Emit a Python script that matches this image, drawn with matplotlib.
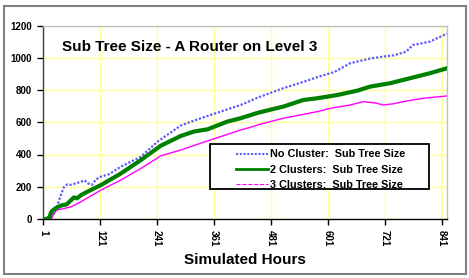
import matplotlib
matplotlib.use('Agg')
import matplotlib.pyplot as plt
from matplotlib.lines import Line2D
from matplotlib.patches import Rectangle

plt.rcParams['font.family'] = ['Liberation Sans', 'DejaVu Sans']

# Valeurs (heures simulees -> taille du sous-arbre)
no_cluster_x = [1, 12, 20, 28, 36, 44, 52, 60, 70, 80, 88, 96, 104, 112, 122, 140, 165,
                207, 242, 291, 333, 375, 417, 455, 507, 549, 579, 615, 648, 690, 717,
                740, 766, 780, 800, 816, 852]
no_cluster_y = [0, 0, 15, 60, 130, 195, 215, 212, 222, 230, 240, 220, 212, 245, 262, 278, 325,
                387, 480, 580, 625, 666, 707, 755, 811, 850, 880, 912, 966, 995, 1007,
                1015, 1038, 1079, 1090, 1100, 1150]

two_clusters_x = [1, 8, 14, 18, 24, 30, 40, 50, 60, 66, 72, 81, 100, 123, 165, 207, 249,
                  291, 318, 347, 389, 417, 455, 507, 549, 579, 621, 663, 690, 732, 774,
                  816, 852]
two_clusters_y = [0, 0, 10, 45, 60, 72, 85, 90, 118, 134, 128, 149, 178, 211, 283, 366, 455,
                  515, 542, 556, 604, 625, 660, 697, 738, 749, 769, 796, 821, 842, 873,
                  904, 935]

three_clusters_x = [1, 14, 18, 22, 29, 45, 60, 81, 123, 165, 207, 249, 291, 333, 375, 417,
                    438, 455, 507, 579, 607, 648, 676, 704, 717, 740, 760, 802, 852]
three_clusters_y = [0, 0, 0, 25, 56, 65, 76, 108, 180, 242, 314, 392, 428, 470, 511, 552,
                    569, 585, 625, 666, 687, 707, 728, 718, 707, 715, 728, 749, 763]

x_ticks = [1, 121, 241, 361, 481, 601, 721, 841]
y_ticks = [0, 200, 400, 600, 800, 1000, 1200]

fig = plt.figure(figsize=(4.69, 2.78), dpi=100)
ax = fig.add_axes([43 / 469, 1 - 219 / 278, 404 / 469, 193.5 / 278])

# cadre exterieur gris
fig.patches.append(Rectangle((4 / 469, 4 / 278), 462 / 469, 268 / 278, transform=fig.transFigure,
                             fill=False, edgecolor='#808080', linewidth=1.5))

ax.plot(no_cluster_x, no_cluster_y, color='#5a5aff', linestyle=(0, (1, 0.8)), linewidth=1.6, zorder=3)
ax.plot(two_clusters_x, two_clusters_y, color='#008000', linewidth=3, zorder=4)
ax.plot(three_clusters_x, three_clusters_y, color='#ff00ff', linewidth=1, zorder=3)

ax.set_xlim(0.5, 852)
ax.set_ylim(0, 1200)
ax.set_xticks(x_ticks)
ax.set_yticks(y_ticks)
ax.set_xticklabels([str(t) for t in x_ticks], rotation=-90, fontsize=7, fontweight='bold')
ax.set_yticklabels([str(t) for t in y_ticks], fontsize=7, fontweight='bold')
ax.tick_params(axis='both', direction='out', length=4, width=1, pad=4)
ax.grid(True, color='#ffff99', linewidth=1, zorder=0)
ax.set_axisbelow(True)

ax.spines['left'].set_color('#404040')
ax.spines['bottom'].set_color('black')
ax.spines['top'].set_color('#c0c0c0')
ax.spines['right'].set_color('#c0c0c0')
for s in ax.spines.values():
    s.set_linewidth(1)

ax.set_xlabel('Simulated Hours', fontsize=11, fontweight='bold', labelpad=5)

fig.text(62 / 469, 1 - 47 / 278, 'Sub Tree Size - A Router on Level 3', fontsize=11,
         fontweight='bold', ha='left', va='center')

# boite de legende
ax.add_patch(Rectangle((0.413, 0.155), 0.542, 0.232, transform=ax.transAxes,
                       facecolor='white', edgecolor='black', linewidth=1.3, zorder=5))
handles = [Line2D([], [], color='#5a5aff', linestyle=(0, (1, 0.8)), linewidth=1.5),
           Line2D([], [], color='#008000', linewidth=2),
           Line2D([], [], color='#ff00ff', linestyle='--', linewidth=0.8)]
labels = ['No Cluster:  Sub Tree Size', '2 Clusters:  Sub Tree Size', '3 Clusters:  Sub Tree Size']
leg = ax.legend(handles, labels, loc='upper left', bbox_to_anchor=((236 - 43) / 404 - 0.01, 0.382),
                frameon=False, prop={'size': 7.8, 'weight': 'bold'}, handlelength=2.9,
                handletextpad=0.2, labelspacing=0.5, borderaxespad=0.2, borderpad=0.2)
leg.set_zorder(6)

plt.savefig('out.png', dpi=100)
